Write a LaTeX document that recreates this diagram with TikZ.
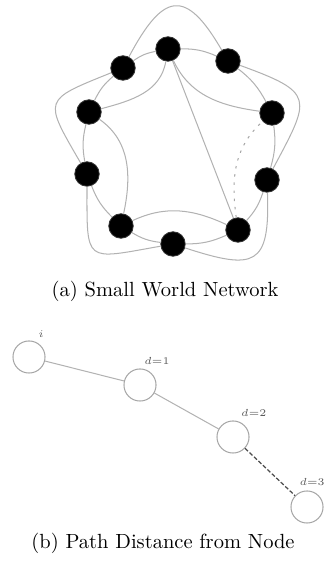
\documentclass[tikz,border=0pt]{standalone}
\usepackage{amsmath,amssymb}
\usepackage{tikz}
\usetikzlibrary{arrows.meta,positioning,calc}

\begin{document}
\begin{tikzpicture}[x=0.01715cm, y=0.01715cm,
    vertex/.style={circle, fill=black, draw=black!80, minimum size=0.42cm, inner sep=0pt},
    hop/.style={circle, draw=gray!70, fill=white, line width=0.5pt, minimum size=0.55cm, inner sep=0pt},
    link/.style={draw=gray!60, line width=0.5pt},
    rewired/.style={draw=gray!70, line width=0.5pt, dash pattern=on 1.2pt off 2.8pt},
    farlink/.style={draw=gray!60!black, line width=0.6pt, dash pattern=on 2pt off 1pt},
    lbl/.style={font=\fontsize{4.5}{5}\selectfont, text=gray!70!black, inner sep=1pt, label distance=1pt},
    caption/.style={font=\normalsize, inner sep=0pt}
]
    \useasboundingbox (0,0) rectangle (331,569);

    % (a) small world ring, 10 vertices
    \node[vertex] (v1) at (168,520) {};
    \node[vertex] (v2) at (228,508) {};
    \node[vertex] (v3) at (272,456) {};
    \node[vertex] (v4) at (267,389) {};
    \node[vertex] (v5) at (238,339) {};
    \node[vertex] (v6) at (173,325) {};
    \node[vertex] (v7) at (121,343) {};
    \node[vertex] (v8) at (87,395) {};
    \node[vertex] (v9) at (89,457) {};
    \node[vertex] (v10) at (123,501) {};

    % nearest neighbours
    \draw[link] (v1) to[bend left=12] (v2);
    \draw[link] (v2) to[bend left=12] (v3);
    \draw[link] (v3) to[bend left=12] (v4);
    \draw[link] (v4) to[bend left=12] (v5);
    \draw[link] (v5) to[bend left=12] (v6);
    \draw[link] (v6) to[bend left=12] (v7);
    \draw[link] (v7) to[bend left=12] (v8);
    \draw[link] (v8) to[bend left=12] (v9);
    \draw[link] (v9) to[bend left=12] (v10);
    \draw[link] (v10) to[bend left=12] (v1);

    % outer lobes
    \draw[link] (v10) to[out=62,in=120,looseness=2] (v2);
    \draw[link] (v2) to[out=-20,in=62,looseness=1.9] (v4);
    \draw[link] (v4) to[out=-88,in=-18,looseness=1.9] (v6);
    \draw[link] (v6) to[out=190,in=-90,looseness=2.1] (v8);
    \draw[link] (v8) to[out=120,in=-158,looseness=2.0] (v10);

    % inner links
    \draw[link] (v1) to[out=-65,in=172] (v3);
    \draw[link] (v1) to[out=-100,in=15] (v9);
    \draw[link] (v9) to[out=-35,in=78] (v7);
    \draw[link] (v7) to[out=25,in=155] (v5);
    \draw[rewired] (v5) to[out=98,in=-138] (v3);
    \draw[link] (v1) -- (v5);

    \node[caption] (capa) at (165,278) {(a) Small World Network};

    % (b) distance along a path
    \node[hop, label={[lbl]68:$i$}] (src) at (29,212) {};
    \node[hop, label={[lbl]84:$d{=}1$}] (hop1) at (140,184) {};
    \node[hop, label={[lbl]72:$d{=}2$}] (hop2) at (233,132) {};
    \node[hop, label={[lbl, xshift=2.5pt]above:$d{=}3$}] (hop3) at (307,62) {};

    \draw[link] (src) -- (hop1);
    \draw[link] (hop1) -- (hop2);
    \draw[farlink] (hop2) -- (hop3);

    \node[caption] (capb) at (163,26) {(b) Path Distance from Node};
\end{tikzpicture}
\end{document}
